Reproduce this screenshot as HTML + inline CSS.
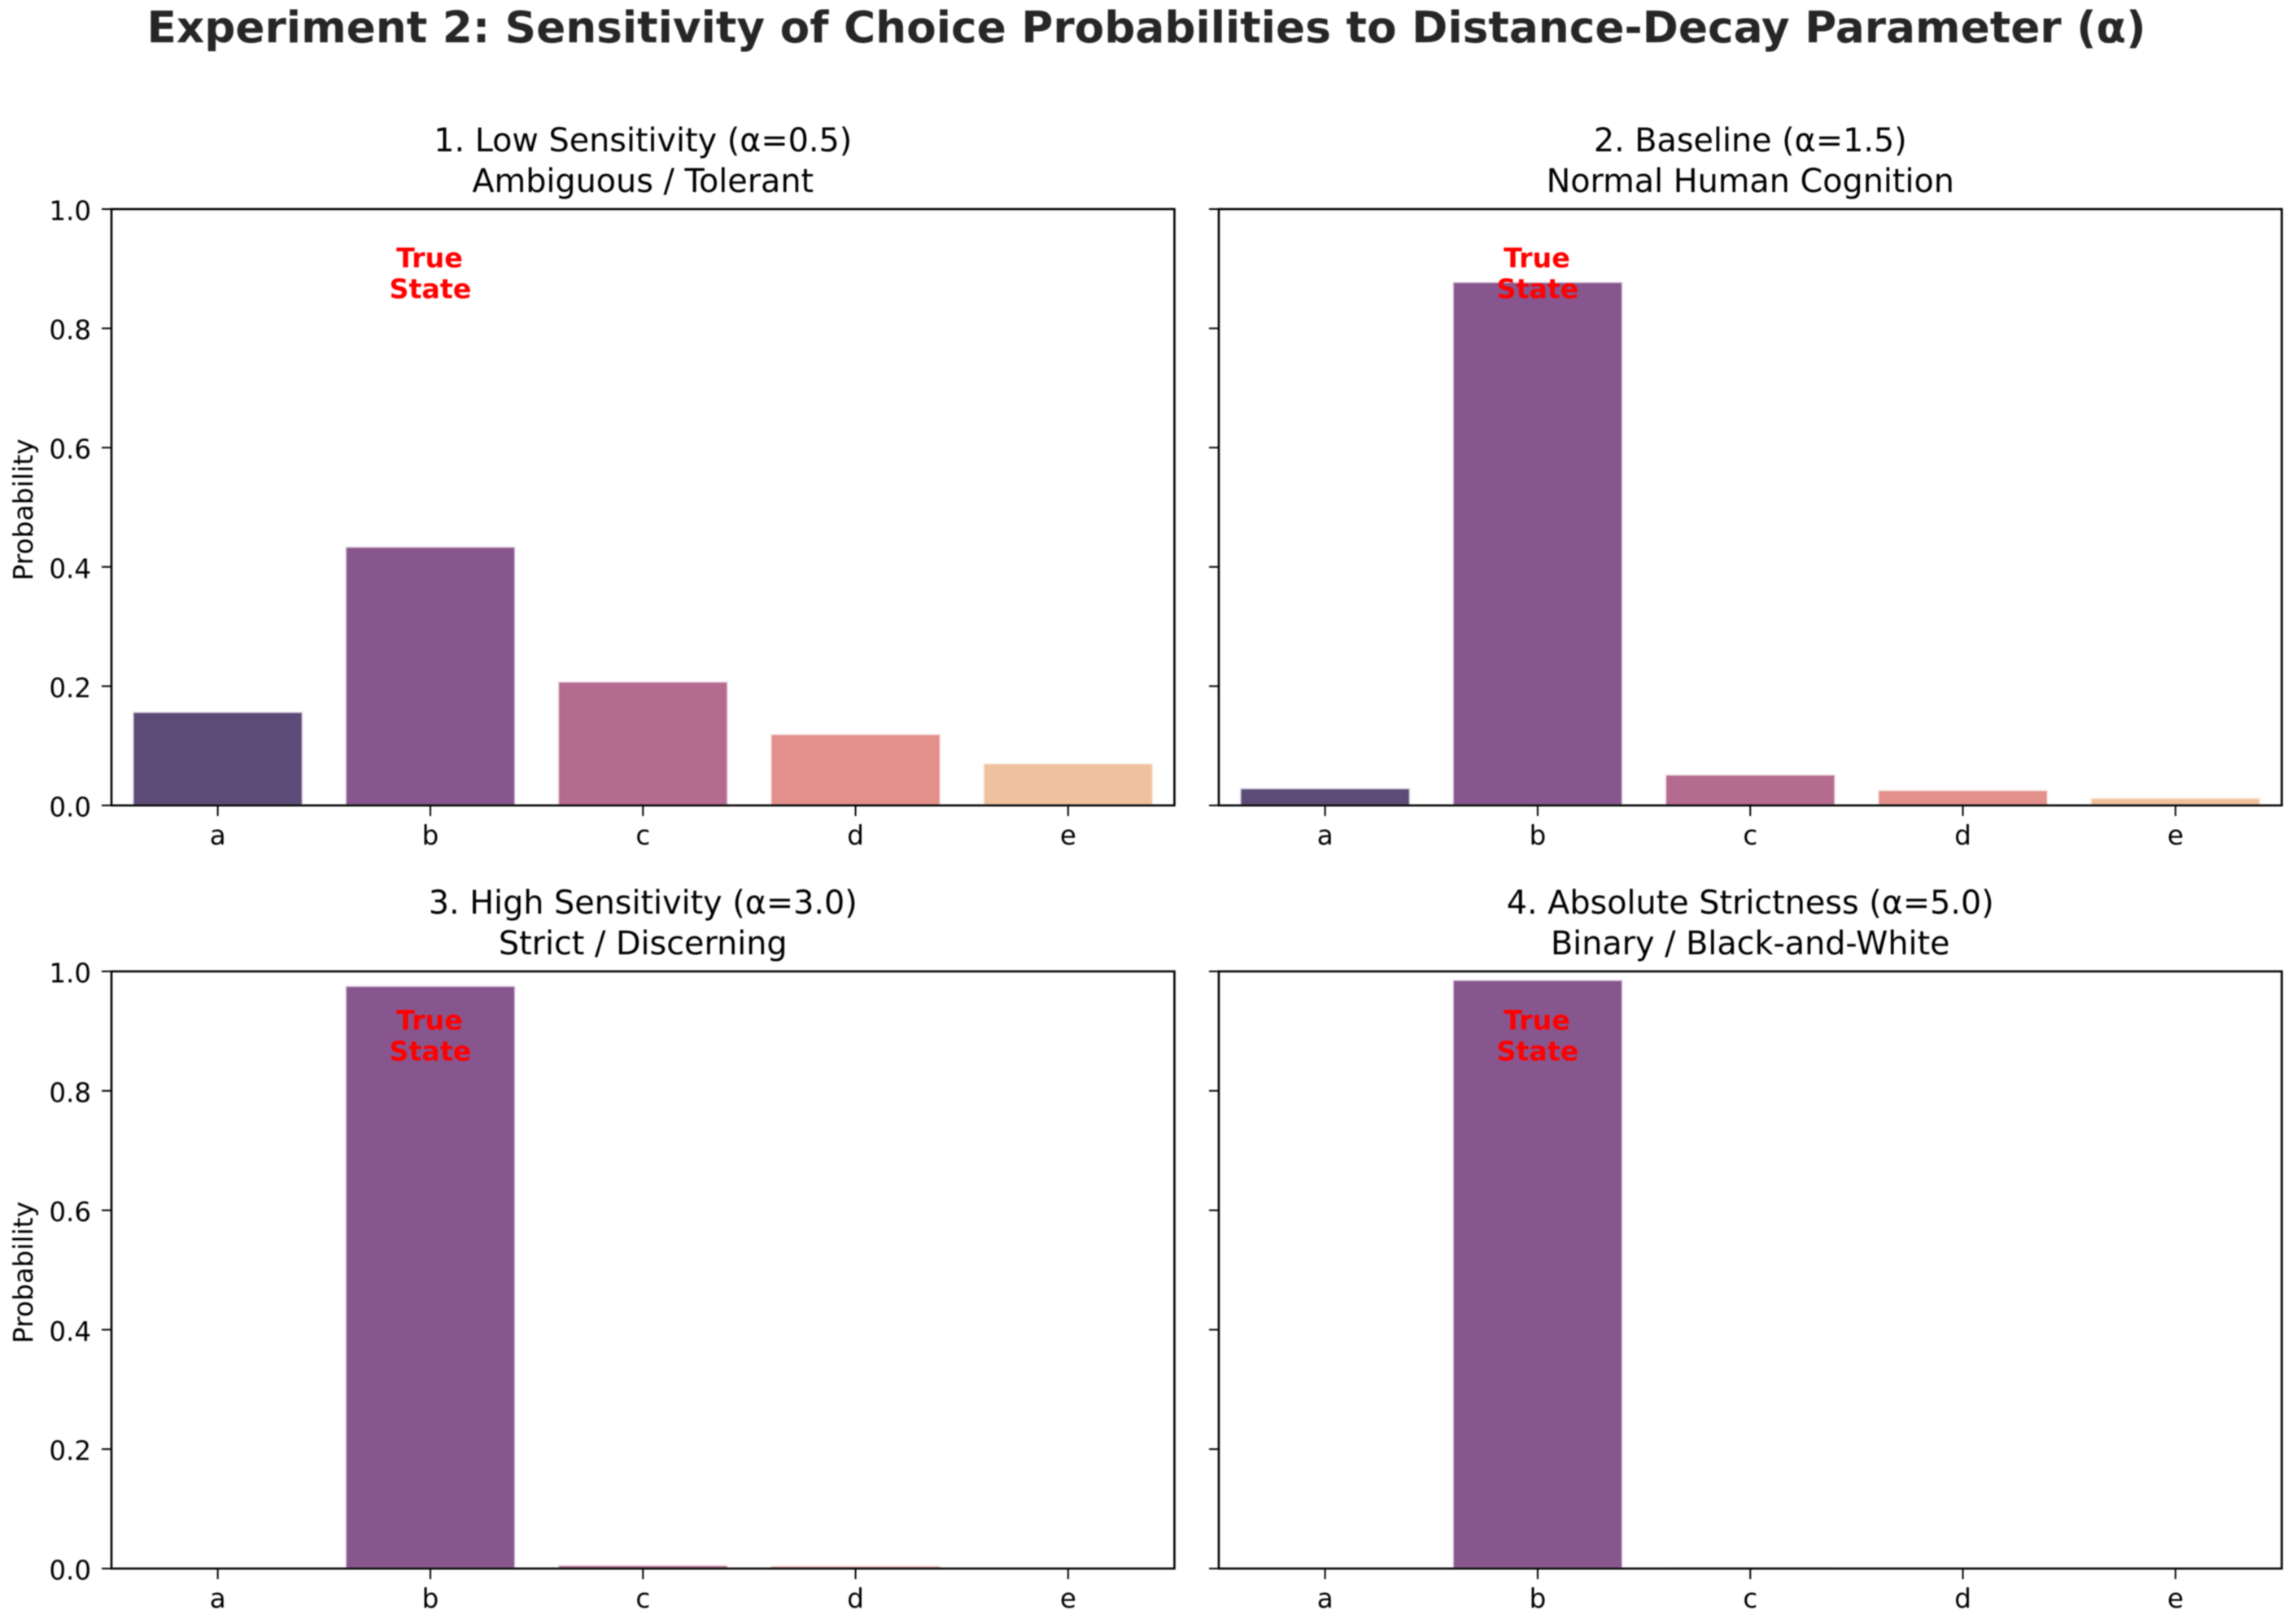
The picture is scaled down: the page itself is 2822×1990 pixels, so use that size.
<!DOCTYPE html>
<html lang="en">
<head>
<meta charset="utf-8">
<title>Experiment 2: Sensitivity of Choice Probabilities to Distance-Decay Parameter</title>
<style>
  html, body { margin: 0; padding: 0; background: #ffffff; }
  svg { display: block; filter: blur(0.7px); }
  text { font-family: "DejaVu Sans", "Liberation Sans", sans-serif; }
</style>
</head>
<body>
<svg id="figure" xmlns="http://www.w3.org/2000/svg" width="2822" height="1990" viewBox="0 0 2822 1990">
  <rect x="0" y="0" width="2822" height="1990" fill="#ffffff"></rect>
  <text x="1409" y="52" text-anchor="middle" font-size="53.3" font-weight="bold" fill="#262626">Experiment 2: Sensitivity of Choice Probabilities to Distance-Decay Parameter (α)</text>
</svg>
<script>
// ---- chart data ----
const categories = ['a', 'b', 'c', 'd', 'e'];
const yTicks = [0, 0.2, 0.4, 0.6, 0.8, 1.0];
const yTickLabels = ['0.0', '0.2', '0.4', '0.6', '0.8', '1.0'];
const lowSensitivityValues = [0.157, 0.434, 0.208, 0.120, 0.071];
const baselineValues = [0.029, 0.878, 0.052, 0.026, 0.013];
const highSensitivityValues = [0.001, 0.976, 0.006, 0.005, 0.001];
const absoluteStrictnessValues = [0.0003, 0.986, 0.002, 0.002, 0.0002];
const panelTitles = ['1. Low Sensitivity (α=0.5)', '2. Baseline (α=1.5)', '3. High Sensitivity (α=3.0)', '4. Absolute Strictness (α=5.0)'];
const panelSubtitles = ['Ambiguous / Tolerant', 'Normal Human Cognition', 'Strict / Discerning', 'Binary / Black-and-White'];
const trueStateIndex = 1;
const trueStateValue = 0.890;

// ---- styling and layout ----
const barPalette = ['#5c4a77', '#88568e', '#b56a90', '#e38f8b', '#f0c19e'];
const SVG_NS = 'http://www.w3.org/2000/svg';
const figure = document.getElementById('figure');
const panels = [
  { key: 'low-sensitivity', values: lowSensitivityValues, left: 137, right: 1443.5, top: 257, bottom: 990, labelled: true },
  { key: 'baseline', values: baselineValues, left: 1498, right: 2804.5, top: 257, bottom: 990, labelled: false },
  { key: 'high-sensitivity', values: highSensitivityValues, left: 137, right: 1443.5, top: 1194, bottom: 1928, labelled: true },
  { key: 'absolute-strictness', values: absoluteStrictnessValues, left: 1498, right: 2804.5, top: 1194, bottom: 1928, labelled: false }
];
const BAR_WIDTH = 0.8;

// ---- axis functions ----
function xScale(panel, position) {
  return panel.left + (position + 0.5) / categories.length * (panel.right - panel.left);
}
function yScale(panel, value) {
  return panel.bottom - value * (panel.bottom - panel.top);
}
function make(tag, attrs, parent, content) {
  const el = document.createElementNS(SVG_NS, tag);
  Object.keys(attrs).forEach(function (k) { el.setAttribute(k, attrs[k]); });
  if (content !== undefined) { el.textContent = content; }
  parent.appendChild(el);
  return el;
}

panels.forEach(function (panel, panelIndex) {
  const group = make('g', {}, figure);
  
  
  const centerX = (panel.left + panel.right) / 2;

  // titles
  const title = make('text', { x: centerX, y: panel.top - 71, 'text-anchor': 'middle', 'font-size': 39.7, fill: '#000000' }, group, panelTitles[panelIndex]);
  
  
  const subtitle = make('text', { x: centerX, y: panel.top - 21, 'text-anchor': 'middle', 'font-size': 39.7, fill: '#000000' }, group, panelSubtitles[panelIndex]);
  
  

  // bars
  categories.forEach(function (category, i) {
    const x0 = xScale(panel, i - BAR_WIDTH / 2);
    const x1 = xScale(panel, i + BAR_WIDTH / 2);
    const yTop = yScale(panel, panel.values[i]);
    const yBase = yScale(panel, 0);
    const bar = make('rect', {
      x: x0, y: yTop, width: x1 - x0, height: yBase - yTop,
      fill: barPalette[i], stroke: '#ffffff', 'stroke-opacity': 0.75, 'stroke-width': 3
    }, group);
    
    
  });

  // y ticks
  yTicks.forEach(function (tick, i) {
    const y = yScale(panel, tick);
    const mark = make('line', { x1: panel.left - 12, x2: panel.left, y1: y, y2: y, stroke: '#000000', 'stroke-width': 2 }, group);
    
    
    if (panel.labelled) {
      const label = make('text', { x: 112, y: y + 13.5, 'text-anchor': 'end', 'font-size': 32.5, fill: '#000000' }, group, yTickLabels[i]);
      
      
    }
  });

  // x ticks
  categories.forEach(function (category, i) {
    const x = xScale(panel, i);
    const mark = make('line', { x1: x, x2: x, y1: panel.bottom, y2: panel.bottom + 13, stroke: '#000000', 'stroke-width': 2 }, group);
    
    
    const label = make('text', { x: x, y: panel.bottom + 48, 'text-anchor': 'middle', 'font-size': 32.5, fill: '#000000' }, group, category);
    
    
  });

  // spines
  const frame = make('rect', {
    x: panel.left, y: panel.top, width: panel.right - panel.left, height: panel.bottom - panel.top,
    fill: 'none', stroke: '#000000', 'stroke-width': 2.6
  }, group);
  
  

  // y axis title
  if (panel.labelled) {
    const midY = (panel.top + panel.bottom) / 2 + 3;
    const yTitle = make('text', {
      x: 40, y: midY, 'text-anchor': 'middle', 'font-size': 33, fill: '#000000',
      transform: 'rotate(-90 40 ' + midY + ')'
    }, group, 'Probability');
    
    
  }

  // true state annotation
  const annotationX = xScale(panel, trueStateIndex) - 1;
  const annotationY = yScale(panel, trueStateValue);
  const trueWord = make('text', { x: annotationX, y: annotationY - 9, 'text-anchor': 'middle', 'font-size': 33.3, 'font-weight': 'bold', fill: '#ff0000' }, group, 'True');
  
  
  const stateWord = make('text', { x: annotationX + 1, y: annotationY + 29, 'text-anchor': 'middle', 'font-size': 33.3, 'font-weight': 'bold', fill: '#ff0000' }, group, 'State');
  
  
});
</script>
</body>
</html>
